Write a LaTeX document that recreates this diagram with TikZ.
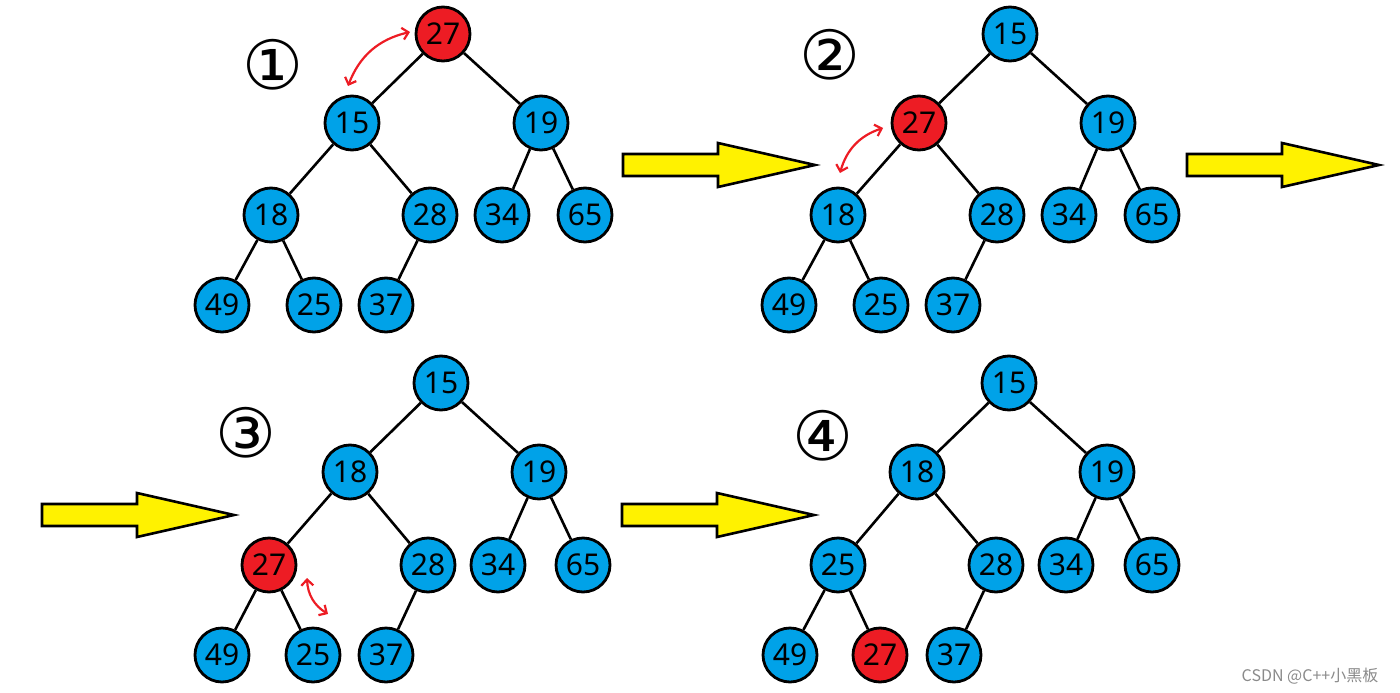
\documentclass[tikz,border=0pt]{standalone}
\usepackage{fontspec}
\usetikzlibrary{arrows.meta}
\newfontfamily\numfont{Noto Sans}
\newfontfamily\circfont{DejaVu Sans}
\newfontfamily\cjkfont{Noto Sans CJK SC}
\definecolor{nblue}{HTML}{00A2E8}
\definecolor{nred}{HTML}{ED1C24}
\definecolor{ayellow}{HTML}{FFF200}
\definecolor{wgray}{HTML}{8A8A8A}
\tikzset{
  bnode/.style={circle,draw=black,line width=2.8pt,fill=nblue,minimum size=54pt,inner sep=0pt,font=\numfont\fontsize{30}{30}\selectfont},
  rnode/.style={bnode,fill=nred},
  edge/.style={draw=black,line width=2.6pt},
  swap/.style={draw=nred,line width=2.2pt,{Straight Barb[length=6pt,width=12pt]}-{Straight Barb[length=6pt,width=12pt]}},
  stagelabel/.style={font=\circfont\fontsize{68}{68}\selectfont,inner sep=0pt},
  bigarrow/.style={draw=black,line width=2.6pt,fill=ayellow,line join=miter}
}
\newcommand\treeedges[1]{%
  \draw[edge] (#10)--(#11) (#10)--(#12) (#11)--(#13) (#11)--(#14)
    (#12)--(#15) (#12)--(#16) (#13)--(#17) (#13)--(#18) (#14)--(#19);}
\newcommand\yarrow[2]{%
  \draw[bigarrow] (#1,#2-11)--(#1+95,#2-11)--(#1+95,#2-22)--(#1+192,#2)--(#1+95,#2+22)--(#1+95,#2+11)--(#1,#2+11)--cycle;}
\begin{document}
\begin{tikzpicture}[x=1pt,y=-1pt]
\useasboundingbox (0,0) rectangle (1400,693);
% ---------- tree 1 ----------
\begin{scope}[shift={(443,34)}]
\node[rnode] (a0) at (0,0) {27};
\node[bnode] (a1) at (-91,89) {15};
\node[bnode] (a2) at (98,89) {19};
\node[bnode] (a3) at (-172,181) {18};
\node[bnode] (a4) at (-13,181) {28};
\node[bnode] (a5) at (59,181) {34};
\node[bnode] (a6) at (142,181) {65};
\node[bnode] (a7) at (-221,271) {49};
\node[bnode] (a8) at (-129,271) {25};
\node[bnode] (a9) at (-57,271) {37};
\end{scope}
\treeedges{a}
% ---------- tree 2 ----------
\begin{scope}[shift={(1010,34)}]
\node[bnode] (b0) at (0,0) {15};
\node[rnode] (b1) at (-91,89) {27};
\node[bnode] (b2) at (98,89) {19};
\node[bnode] (b3) at (-172,181) {18};
\node[bnode] (b4) at (-13,181) {28};
\node[bnode] (b5) at (59,181) {34};
\node[bnode] (b6) at (142,181) {65};
\node[bnode] (b7) at (-221,271) {49};
\node[bnode] (b8) at (-129,271) {25};
\node[bnode] (b9) at (-57,271) {37};
\end{scope}
\treeedges{b}
% ---------- tree 3 ----------
\begin{scope}[shift={(441,383)}]
\node[bnode] (c0) at (0,0) {15};
\node[bnode] (c1) at (-91,89) {18};
\node[bnode] (c2) at (98,89) {19};
\node[rnode] (c3) at (-172,182) {27};
\node[bnode] (c4) at (-13,182) {28};
\node[bnode] (c5) at (57,182) {34};
\node[bnode] (c6) at (142,182) {65};
\node[bnode] (c7) at (-219,272) {49};
\node[bnode] (c8) at (-128,272) {25};
\node[bnode] (c9) at (-55,272) {37};
\end{scope}
\treeedges{c}
% ---------- tree 4 ----------
\begin{scope}[shift={(1009,383)}]
\node[bnode] (d0) at (0,0) {15};
\node[bnode] (d1) at (-92,89) {18};
\node[bnode] (d2) at (98,89) {19};
\node[bnode] (d3) at (-171,182) {25};
\node[bnode] (d4) at (-13,182) {28};
\node[bnode] (d5) at (57,182) {34};
\node[bnode] (d6) at (143,182) {65};
\node[bnode] (d7) at (-219,272) {49};
\node[rnode] (d8) at (-129,272) {27};
\node[bnode] (d9) at (-55,272) {37};
\end{scope}
\treeedges{d}
% ---------- stage labels ----------
\node[stagelabel] (l1) at (273,65) {①};
\node[stagelabel] (l2) at (830,55) {②};
\node[stagelabel] (l3) at (246,433) {③};
\node[stagelabel] (l4) at (823,436) {④};
% ---------- swap arrows ----------
\coordinate (s1a) at (348,86); \coordinate (s1b) at (410,32);
\draw[swap] (s1a) to[bend left=28] (s1b);
\coordinate (s2a) at (840,173); \coordinate (s2b) at (883,128);
\draw[swap] (s2a) to[bend left=28] (s2b);
\coordinate (s3a) at (307,578); \coordinate (s3b) at (328,614);
\draw[swap] (s3a) to[bend right=28] (s3b);
% ---------- big yellow arrows ----------
\yarrow{623}{165}
\yarrow{1187}{165}
\yarrow{42}{515}
\yarrow{622}{515}
% ---------- watermark ----------
\node[font=\cjkfont\fontsize{16}{16}\selectfont,text=wgray,inner sep=0pt] (wm) at (1310,676) {CSDN @C++小黑板};
\end{tikzpicture}
\end{document}
